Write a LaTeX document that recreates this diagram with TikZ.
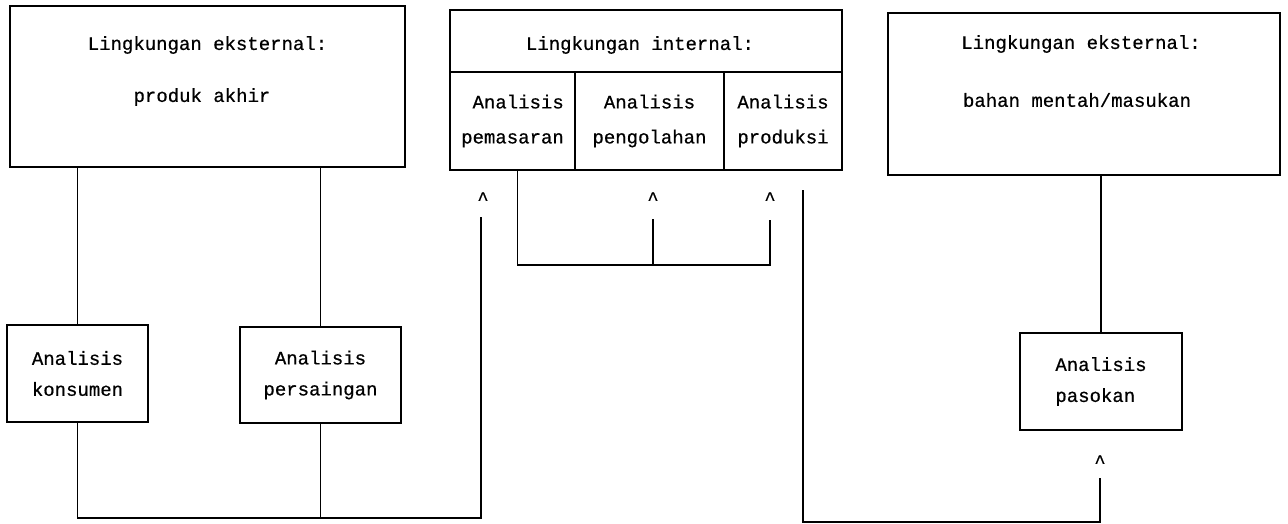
\documentclass[tikz,border=0pt]{standalone}
\usepackage{fontspec}
\setmonofont{Liberation Mono}[UprightFeatures={FakeBold=0.6}]
\begin{document}
\begin{tikzpicture}[x=1pt,y=-1pt,
  every node/.style={font=\ttfamily\fontsize{19}{31}\selectfont},
  bigbox/.style={draw, line width=1.6pt, inner sep=0pt},
  smallbox/.style={draw, line width=1.6pt, inner sep=0pt, align=center},
  cell/.style={draw, line width=1.6pt, inner sep=0pt, align=center, font=\ttfamily\fontsize{19}{35}\selectfont},
  txt/.style={inner sep=0pt},
  caret/.style={inner sep=0pt, anchor=base},
  conn/.style={line width=1.4pt}]
\useasboundingbox (0,0) rectangle (1288,524);

% external box left
\node[bigbox, minimum width=395pt, minimum height=161pt] (ext1) at (207.5,86.5) {};
\node[txt] (ext1t) at (207.5,45) {Lingkungan eksternal:};
\node[txt] (ext1b) at (202,97) {produk akhir};

% internal box
\node[bigbox, minimum width=392pt, minimum height=62pt] (intl) at (646,41) {};
\node[txt] (intlt) at (640,45) {Lingkungan internal:};
\node[cell, minimum width=125pt, minimum height=98pt, align=right] (pem) at (512.5,121) {Analisis\\pemasaran};
\node[cell, minimum width=149pt, minimum height=98pt] (peng) at (649.5,121) {Analisis\\pengolahan};
\node[cell, minimum width=118pt, minimum height=98pt] (prod) at (783,121) {Analisis\\produksi};

% external box right
\node[bigbox, minimum width=392pt, minimum height=162pt] (ext2) at (1084,94) {};
\node[txt] (ext2t) at (1081,44) {Lingkungan eksternal:};
\node[txt] (ext2b) at (1077,100) {bahan mentah/masukan};

% small boxes
\node[smallbox, minimum width=141pt, minimum height=97pt] (kons) at (77.5,373.5) {Analisis\\konsumen};
\node[smallbox, minimum width=161pt, minimum height=96pt] (pers) at (320.5,375) {Analisis\\persaingan};
\node[smallbox, minimum width=162pt, minimum height=97pt, align=left] (pas) at (1101,381.5) {Analisis\\pasokan};

% carets
\node[caret] (car1) at (483,205) {\textasciicircum};
\node[caret] (car2) at (653,205) {\textasciicircum};
\node[caret] (car3) at (770,205) {\textasciicircum};
\node[caret] (car4) at (1100,468) {\textasciicircum};

% coordinates
\coordinate (j1) at (481,518);
\coordinate (e1) at (481,217);
\coordinate (j2) at (653,265);
\coordinate (e2) at (653,219);
\coordinate (j3) at (770,265);
\coordinate (e3) at (770,220);
\coordinate (s4) at (803,190);
\coordinate (j4a) at (803,522);
\coordinate (j4b) at (1100,522);
\coordinate (e4) at (1100,478);

% connectors
\draw[conn] (ext1.south -| kons.north) -- (kons.north);
\draw[conn] (ext1.south -| pers.north) -- (pers.north);
\draw[conn] (kons.south) -- (kons.south |- j1) -- (j1) -- (e1);
\draw[conn] (pers.south) -- (pers.south |- j1);
\draw[conn] ([xshift=5pt]pem.south) -- ([xshift=5pt]pem.south |- j2) -- (j3) -- (e3);
\draw[conn] (j2) -- (e2);
\draw[conn] (s4) -- (j4a) -- (j4b) -- (e4);
\draw[conn] (ext2.south -| pas.north) -- (pas.north);
\end{tikzpicture}
\end{document}
